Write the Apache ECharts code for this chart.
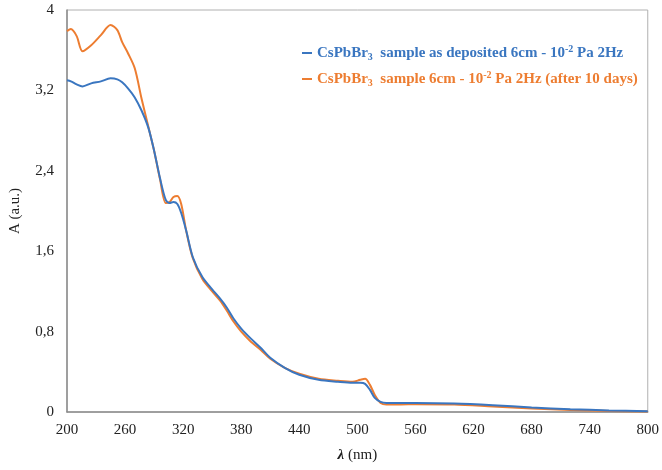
<!DOCTYPE html>
<html>
<head>
<meta charset="utf-8">
<script src="https://cdn.jsdelivr.net/npm/echarts@6/dist/echarts.min.js"></script>
<style>
  html, body { margin: 0; padding: 0; background: #fff; }
  #chart { width: 662px; height: 470px; }
</style>
</head>
<body>
<div id="chart"></div>
<script>
// wavelength (nm)
var wavelength = [200, 204, 210, 216, 225, 235, 245, 252, 257, 263, 270, 277, 284, 290, 296, 302, 306, 310, 314, 318,
    323, 330, 340, 350, 358, 365, 372, 380, 390, 400, 410, 425, 440, 460, 480, 495, 503, 508, 513, 518,
    524, 530, 545, 560, 600, 640, 680, 720, 760, 800];
// as deposited
var absDeposited = [3.30, 3.29, 3.26, 3.24, 3.27, 3.29, 3.32, 3.31, 3.28, 3.22, 3.13, 3.00, 2.83, 2.60, 2.33, 2.11, 2.08, 2.09, 2.07, 1.98,
    1.81, 1.54, 1.34, 1.22, 1.13, 1.04, 0.93, 0.83, 0.73, 0.64, 0.54, 0.44, 0.37, 0.32, 0.30, 0.29, 0.29, 0.28, 0.22, 0.14,
    0.10, 0.09, 0.09, 0.09, 0.085, 0.068, 0.045, 0.028, 0.016, 0.008];
// after 10 days
var absAfter10 = [3.79, 3.81, 3.74, 3.59, 3.65, 3.75, 3.85, 3.80, 3.68, 3.57, 3.42, 3.12, 2.84, 2.60, 2.32, 2.08, 2.09, 2.14, 2.15, 2.07,
    1.81, 1.53, 1.32, 1.20, 1.11, 1.01, 0.90, 0.80, 0.70, 0.62, 0.53, 0.44, 0.38, 0.33, 0.31, 0.30, 0.32, 0.33, 0.27, 0.17,
    0.09, 0.075, 0.075, 0.078, 0.075, 0.055, 0.035, 0.02, 0.01, 0.004];

var nameDeposited = 'CsPbBr3 sample as deposited 6cm - 10-2 Pa 2Hz';
var nameAfter10 = 'CsPbBr3 sample 6cm - 10-2 Pa 2Hz (after 10 days)';

function pairs(xs, ys) {
    var out = [];
    for (var i = 0; i < xs.length; i++) out.push([xs[i], ys[i]]);
    return out;
}

var serif = '"Liberation Serif", "Times New Roman", serif';

var chart = echarts.init(document.getElementById('chart'));

chart.setOption({
    animation: false,
    grid: {
        left: 63, right: 12, top: 10, bottom: 58,
        show: true, borderColor: '#b0b0b0', borderWidth: 1
    },
    legend: {
        orient: 'vertical',
        left: 297,
        top: 39,
        itemGap: 8,
        itemWidth: 10,
        itemHeight: 2,
        icon: 'rect',
        data: [nameDeposited, nameAfter10],
        formatter: function (name) {
            var s = name === nameDeposited ? 'b' : 'o';
            if (name === nameDeposited) {
                return '{' + s + '|CsPbBr}{' + s + 's|3}{' + s + '|  sample as deposited 6cm - 10}{' + s + 'p|-2}{' + s + '| Pa 2Hz}';
            }
            return '{' + s + '|CsPbBr}{' + s + 's|3}{' + s + '|  sample 6cm - 10}{' + s + 'p|-2}{' + s + '| Pa 2Hz (after 10 days)}';
        },
        textStyle: {
            rich: {
                b: { fontFamily: serif, fontWeight: 'bold', fontSize: 15, color: '#3a76c0', lineHeight: 18 },
                bs: { fontFamily: serif, fontWeight: 'bold', fontSize: 10, color: '#3a76c0', lineHeight: 12, verticalAlign: 'bottom' },
                bp: { fontFamily: serif, fontWeight: 'bold', fontSize: 10, color: '#3a76c0', lineHeight: 12, verticalAlign: 'top' },
                o: { fontFamily: serif, fontWeight: 'bold', fontSize: 15, color: '#ed7d31', lineHeight: 18 },
                os: { fontFamily: serif, fontWeight: 'bold', fontSize: 10, color: '#ed7d31', lineHeight: 12, verticalAlign: 'bottom' },
                op: { fontFamily: serif, fontWeight: 'bold', fontSize: 10, color: '#ed7d31', lineHeight: 12, verticalAlign: 'top' }
            }
        }
    },
    xAxis: {
        type: 'value',
        min: 200, max: 800, interval: 60,
        name: '{l|λ} (nm)',
        nameLocation: 'middle',
        nameGap: 36,
        nameTextStyle: {
            fontFamily: serif, fontSize: 15, color: '#222',
            rich: { l: { fontFamily: serif, fontSize: 15, fontStyle: 'italic', fontWeight: 'bold', color: '#222' } }
        },
        axisLine: { lineStyle: { color: '#8c8c8c', width: 1.5 } },
        axisTick: { show: false },
        splitLine: { show: false },
        axisLabel: { fontFamily: serif, fontSize: 15, color: '#222', margin: 11 }
    },
    yAxis: {
        type: 'value',
        min: 0, max: 4, interval: 0.8,
        name: 'A (a.u.)',
        nameLocation: 'middle',
        nameGap: 44,
        nameTextStyle: { fontFamily: serif, fontSize: 15, color: '#222' },
        axisLine: { show: true, lineStyle: { color: '#8c8c8c', width: 1.5 } },
        axisTick: { show: false },
        splitLine: { show: false },
        axisLabel: {
            fontFamily: serif, fontSize: 15, color: '#222', margin: 13,
            formatter: function (v) { return String(Math.round(v * 10) / 10).replace('.', ','); }
        }
    },
    series: [
        {
            name: nameAfter10,
            type: 'line',
            smooth: 0.3,
            showSymbol: false,
            lineStyle: { color: '#ed7d31', width: 2 },
            itemStyle: { color: '#ed7d31' },
            data: pairs(wavelength, absAfter10)
        },
        {
            name: nameDeposited,
            type: 'line',
            smooth: 0.3,
            showSymbol: false,
            lineStyle: { color: '#3a76c0', width: 2 },
            itemStyle: { color: '#3a76c0' },
            data: pairs(wavelength, absDeposited)
        }
    ]
});
</script>
</body>
</html>
